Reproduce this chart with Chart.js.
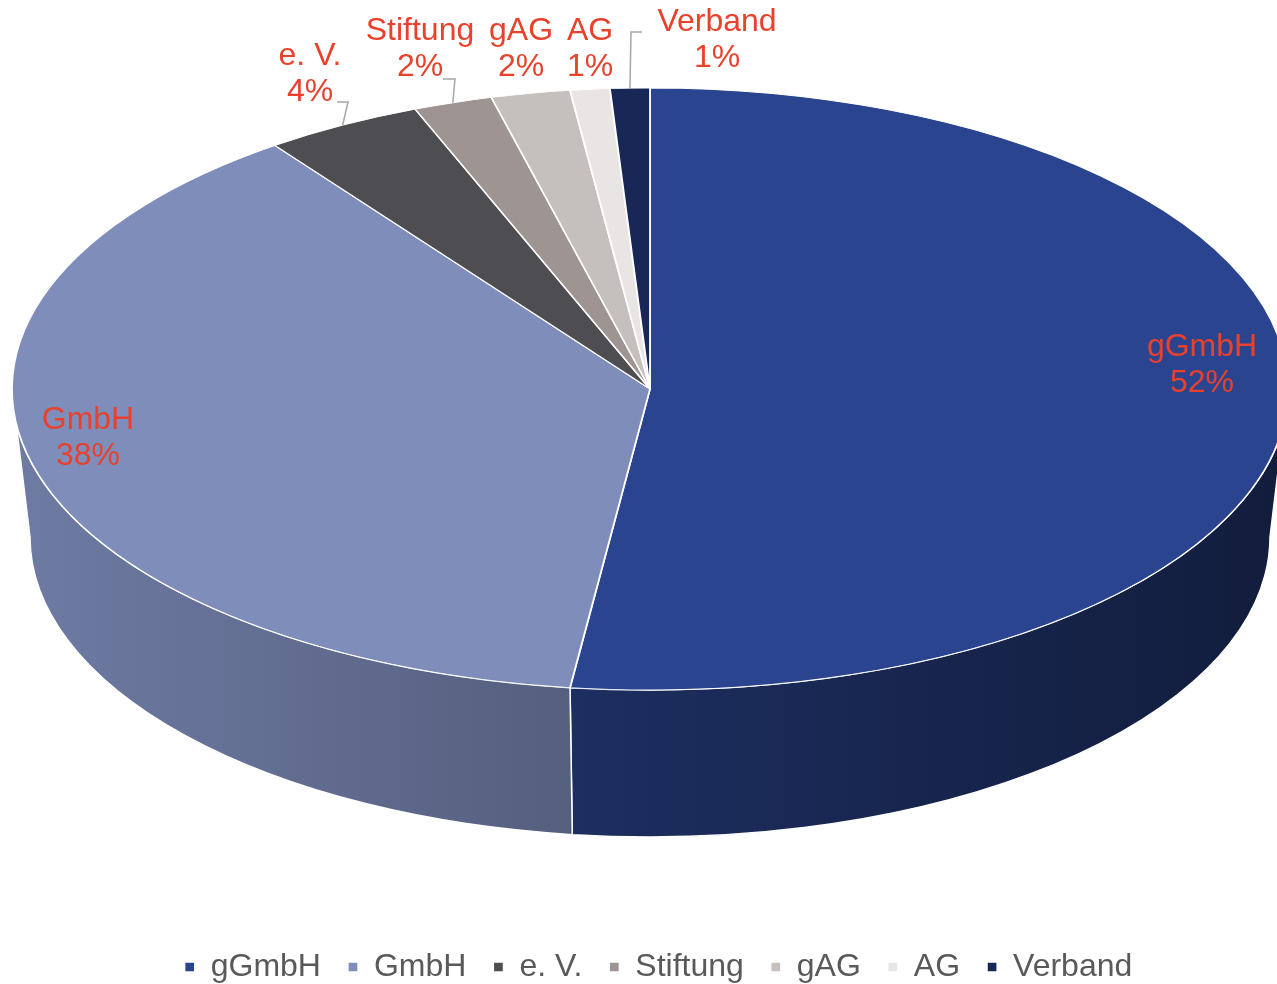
<!DOCTYPE html>
<html>
<head>
<meta charset="utf-8">
<script src="https://cdn.jsdelivr.net/npm/chart.js@4"></script>
<style>
  html, body { margin: 0; padding: 0; background: #ffffff; }
  #wrap { position: relative; width: 1277px; height: 984px; }
</style>
</head>
<body>
<div id="wrap"><canvas id="grafico"></canvas></div>
<script>
// Daten
const kategorien = ['gGmbH', 'GmbH', 'e. V.', 'Stiftung', 'gAG', 'AG', 'Verband'];
const anteile = [52, 38, 4, 2, 2, 1, 1];
const farben = ['#2B448F', '#7F8DBB', '#4E4D52', '#9E9592', '#C5C0BD', '#E9E5E4', '#182756'];

// Ellipse der Oberseite (3D-Ansicht)
const CX = 650, CY = 389, RX = 638, RY = 301, TIEFE = 148;
const ROT = '#E8412C';

// Beschriftungen: Mittelpunkt der ersten Zeile, optional Linie zum Segment
const beschriftung = [
    { x: 1202, y: 347 },
    { x: 88, y: 420 },
    { x: 310, y: 56, linie: [[337, 102], [348, 102]] },
    { x: 420, y: 31, linie: [[443, 79], [455, 79]] },
    { x: 521, y: 31 },
    { x: 590, y: 31 },
    { x: 717, y: 22, linie: [[642, 32], [631, 32]] }
];

function abdunkeln(hex, f) {
    const n = parseInt(hex.slice(1), 16);
    const r = Math.round(((n >> 16) & 255) * f);
    const g = Math.round(((n >> 8) & 255) * f);
    const b = Math.round((n & 255) * f);
    return 'rgb(' + r + ',' + g + ',' + b + ')';
}

const pie3d = {
    id: 'pie3d',
    beforeDatasetsDraw(chart) {
        const ctx = chart.ctx;
        const arcs = chart.getDatasetMeta(0).data;
        // Seitenflächen (nur vordere Hälfte sichtbar)
        arcs.forEach((arc, i) => {
            const a = Math.max(arc.startAngle, 0);
            const b = Math.min(arc.endAngle, Math.PI);
            if (b <= a) return;
            const grad = ctx.createLinearGradient(CX - RX, 0, CX + RX, 0);
            grad.addColorStop(0, abdunkeln(farben[i], 0.87));
            grad.addColorStop(1, abdunkeln(farben[i], 0.42));
            ctx.save();
            ctx.beginPath();
            ctx.ellipse(CX, CY, RX, RY, 0, a, b, false);
            ctx.ellipse(CX, CY + TIEFE, RX - 18, RY - 1, 0, b, a, true);
            ctx.closePath();
            ctx.fillStyle = grad;
            ctx.fill();
            ctx.strokeStyle = '#ffffff';
            ctx.lineWidth = 1.5;
            ctx.stroke();
            ctx.restore();
        });
        // Oberseite: Kreis auf Ellipse abbilden
        const el = arcs[0];
        const r = el.outerRadius;
        ctx.save();
        ctx.translate(CX, CY);
        ctx.scale(RX / r, RY / r);
        ctx.translate(-el.x, -el.y);
    },
    afterDatasetsDraw(chart) {
        const ctx = chart.ctx;
        ctx.restore();
        const arcs = chart.getDatasetMeta(0).data;
        ctx.save();
        ctx.font = '32px "Liberation Sans", Arial, sans-serif';
        ctx.textAlign = 'center';
        ctx.textBaseline = 'middle';
        arcs.forEach((arc, i) => {
            const p = beschriftung[i];
            if (p.linie) {
                const mitte = (arc.startAngle + arc.endAngle) / 2;
                const ex = CX + RX * Math.cos(mitte);
                const ey = CY + RY * Math.sin(mitte);
                ctx.beginPath();
                ctx.moveTo(p.linie[0][0], p.linie[0][1]);
                ctx.lineTo(p.linie[1][0], p.linie[1][1]);
                ctx.lineTo(ex, ey);
                ctx.strokeStyle = '#A6A6A6';
                ctx.lineWidth = 1.5;
                ctx.stroke();
            }
            ctx.fillStyle = ROT;
            ctx.fillText(kategorien[i], p.x, p.y);
            ctx.fillText(anteile[i] + '%', p.x, p.y + 36);
        });
        ctx.restore();
    }
};

new Chart(document.getElementById('grafico'), {
    type: 'pie',
    data: {
        labels: kategorien,
        datasets: [{
            data: anteile,
            backgroundColor: farben,
            borderColor: '#ffffff',
            borderWidth: 1.3,
            clip: false
        }]
    },
    options: {
        responsive: true,
        maintainAspectRatio: false,
        animation: false,
        events: [],
        layout: { padding: { bottom: -9, left: 40 } },
        plugins: {
            legend: {
                position: 'bottom',
                labels: {
                    boxWidth: 10,
                    boxHeight: 10,
                    padding: 27,
                    color: '#595959',
                    font: { size: 32, family: '"Liberation Sans", Arial, sans-serif' }
                }
            },
            tooltip: { enabled: false }
        }
    },
    plugins: [pie3d]
});
</script>
</body>
</html>
